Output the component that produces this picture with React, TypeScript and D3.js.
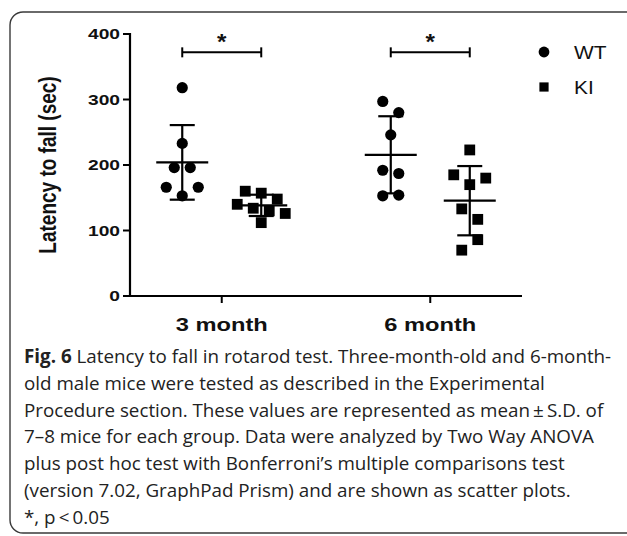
import React from "react";
import * as d3 from "d3";

// values (sec)
const months = ["3 month", "6 month"];
const genotypes = ["WT", "KI"];
const wt3 = [318, 233, 196, 196, 166, 153, 166];
const ki3 = [160, 157, 148, 140, 134, 130, 126, 112];
const wt6 = [297, 280, 246, 192, 187, 153, 154];
const ki6 = [223, 185, 170, 180, 133, 117, 70, 86];
const yTicks = [0, 100, 200, 300, 400];
const sigLevel = 372;

const captionLines = [
  " Latency to fall in rotarod test. Three-month-old and 6-month-",
  "old male mice were tested as described in the Experimental",
  "Procedure section. These values are represented as mean\u2009\u00b1\u2009S.D. of",
  "7\u20138 mice for each group. Data were analyzed by Two Way ANOVA",
  "plus post hoc test with Bonferroni\u2019s multiple comparisons test",
  "(version 7.02, GraphPad Prism) and are shown as scatter plots.",
  "*, p\u2009<\u20090.05",
];

const groups = [
  { month: months[0], geno: "WT", vals: wt3 },
  { month: months[0], geno: "KI", vals: ki3 },
  { month: months[1], geno: "WT", vals: wt6 },
  { month: months[1], geno: "KI", vals: ki6 },
];

const W = 627, H = 536;
const axL = 130, axR = 522, axT = 34, axB = 296;
const font = "'Liberation Sans', Arial, sans-serif";
const stretch = 1.28; // the figure's lettering is widened

const y = d3.scaleLinear().domain([0, 400]).range([axB, axT]);
const x = d3.scalePoint().domain(months).range([axL, axR]).padding(0.44);
const xg = d3.scalePoint().domain(genotypes).range([-39.5, 39.5]);

// prism-like scatter: values close together share a row and spread sideways
function spread(vals: number[], step: number, rowPx: number) {
  const idx = d3.range(vals.length).sort((a, b) => vals[b] - vals[a]);
  const out = new Array(vals.length).fill(0);
  let row: number[] = [];
  const flush = () => {
    const r = row.slice().sort((a, b) => a - b);
    r.forEach((k, i) => (out[k] = (i - (r.length - 1) / 2) * step));
    row = [];
  };
  idx.forEach((k) => {
    if (row.length && y(vals[k]) - y(vals[row[0]]) > rowPx) flush();
    row.push(k);
  });
  flush();
  return out;
}

function Marker({ geno, cx, cy, r }: any) {
  if (geno === "WT") return <circle cx={cx} cy={cy} r={r} fill="#000" />;
  return <rect x={cx - r} y={cy - r} width={r * 2} height={r * 2} fill="#000" />;
}

function Label({ x, y, anchor, size, bold, sx, children }: any) {
  return (
    <text transform={`translate(${x},${y}) scale(${sx || stretch},1)`} textAnchor={anchor || "start"}
      fontFamily={font} fontWeight={bold ? "bold" : "normal"} fontSize={size} fill="#111">
      {children}
    </text>
  );
}

export default function App() {
  return (
    <svg width={W} height={H} style={{ position: "absolute", left: 0, top: 0, background: "#fff" }}>
      <rect x={10} y={12} width={650} height={521} rx={13} ry={13} fill="none" stroke="#3a3a3a" strokeWidth={1.4} />

      {/* axes */}
      <line x1={axL} x2={axL} y1={axT - 1} y2={axB + 1} stroke="#000" strokeWidth={2.2} />
      <line x1={axL - 1} x2={axR} y1={axB} y2={axB} stroke="#000" strokeWidth={2.2} />
      {yTicks.map((t) => (
        <g key={t}>
          <line x1={axL - 7} x2={axL} y1={y(t)} y2={y(t)} stroke="#000" strokeWidth={2} />
          <Label x={axL - 10} y={y(t) + 5.4} anchor="end" size={15} bold>{t}</Label>
        </g>
      ))}
      {months.map((m) => (
        <g key={m}>
          <line x1={x(m)} x2={x(m)} y1={axB} y2={axB + 7} stroke="#000" strokeWidth={2} />
          <Label x={x(m)} y={axB + 35} anchor="middle" size={18.5} bold>{m}</Label>
        </g>
      ))}
      <text transform={`translate(47,${(axT + axB) / 2}) scale(${stretch},1) rotate(-90)`} textAnchor="middle" dy="0.35em"
        fontFamily={font} fontWeight="bold" fontSize={19} fill="#111">Latency to fall (sec)</text>

      {/* points with mean ± SD */}
      {groups.map((g, gi) => {
        const cx = (x(g.month) as number) + (xg(g.geno) as number);
        const mean = d3.mean(g.vals) as number;
        const sd = d3.deviation(g.vals) as number;
        const offs = spread(g.vals, 16, 12);
        return (
          <g key={gi}>
            {g.vals.map((v, i) => (
              <Marker key={i} geno={g.geno} cx={cx + offs[i]} cy={y(v)} r={g.geno === "WT" ? 5.6 : 5.4} />
            ))}
            <line x1={cx} x2={cx} y1={y(mean + sd)} y2={y(mean - sd)} stroke="#000" strokeWidth={2.2} />
            <line x1={cx - 12.5} x2={cx + 12.5} y1={y(mean + sd)} y2={y(mean + sd)} stroke="#000" strokeWidth={2.2} />
            <line x1={cx - 12.5} x2={cx + 12.5} y1={y(mean - sd)} y2={y(mean - sd)} stroke="#000" strokeWidth={2.2} />
            <line x1={cx - 26} x2={cx + 26} y1={y(mean)} y2={y(mean)} stroke="#000" strokeWidth={2.2} />
          </g>
        );
      })}

      {/* significance brackets */}
      {months.map((m) => {
        const x1 = (x(m) as number) + (xg("WT") as number);
        const x2 = (x(m) as number) + (xg("KI") as number);
        const sy = y(sigLevel);
        return (
          <g key={m}>
            <line x1={x1} x2={x2} y1={sy} y2={sy} stroke="#000" strokeWidth={2} />
            <line x1={x1} x2={x1} y1={sy - 5} y2={sy + 5} stroke="#000" strokeWidth={2} />
            <line x1={x2} x2={x2} y1={sy - 5} y2={sy + 5} stroke="#000" strokeWidth={2} />
            <Label x={(x1 + x2) / 2} y={sy - 3} anchor="middle" size={22} bold sx={1.1}>*</Label>
          </g>
        );
      })}

      {/* legend */}
      {genotypes.map((gt, i) => (
        <g key={gt} transform={`translate(544,${52 + i * 35})`}>
          <Marker geno={gt} cx={0} cy={0} r={gt === "WT" ? 5.4 : 4.6} />
          <Label x={30} y={7} size={19} sx={1.1}>{gt}</Label>
        </g>
      ))}

      {/* caption */}
      <text fontFamily="'Open Sans', sans-serif" fontSize={18.8} fill="#222">
        {captionLines.map((ln, i) => (
          <tspan key={i} x={24} y={363 + i * 26.8}>
            {i === 0 ? <tspan fontWeight="bold">Fig. 6</tspan> : null}
            {ln}
          </tspan>
        ))}
      </text>
    </svg>
  );
}
